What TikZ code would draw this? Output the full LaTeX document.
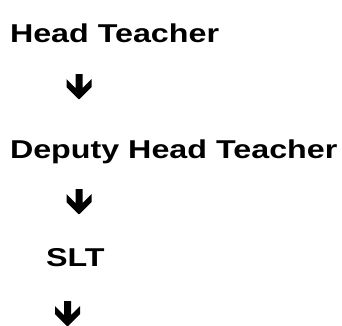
\documentclass[tikz,border=0pt]{standalone}
\usepackage{fontspec}
\newfontfamily\hfont[FakeStretch=1.25]{Liberation Sans}
\begin{document}
\begin{tikzpicture}[x=1pt,y=-1pt,
  label/.style={anchor=base west,inner sep=0pt,outer sep=0pt,font=\hfont\bfseries\fontsize{25.8}{30}\selectfont},
  downarrow/.pic={\fill[black] (-3.5,0) -- (3.5,0) -- (3.5,14) -- (12.5,5) -- (12.5,13) -- (0.5,25) -- (-0.5,25) -- (-12.5,13) -- (-12.5,5) -- (-3.5,14) -- cycle;}]
\useasboundingbox[fill=white] (0,0) rectangle (342,325);
\node[label] (head) at (10,42) {Head Teacher};
\pic (a1) at (79,74) {downarrow};
\node[label] (deputy) at (10,158.5) {Deputy Head Teacher};
\pic (a2) at (79,189) {downarrow};
\node[label] (slt) at (46,266.5) {SLT};
\pic (a3) at (67.5,301) {downarrow};
\end{tikzpicture}
\end{document}
